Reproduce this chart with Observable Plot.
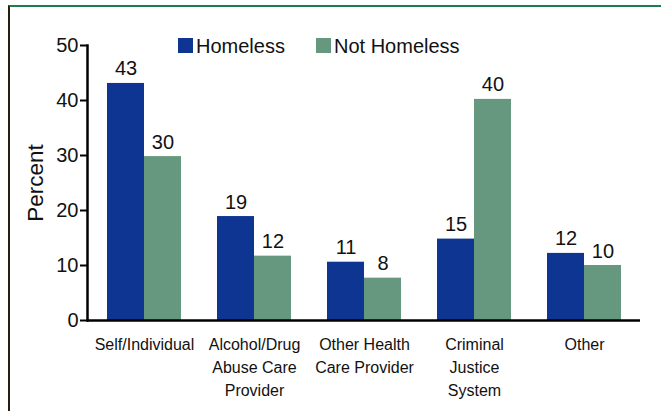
<!DOCTYPE html>
<html>
<head>
<meta charset="utf-8">
<script src="https://cdn.jsdelivr.net/npm/d3@7"></script>
<script src="https://cdn.jsdelivr.net/npm/@observablehq/plot@0.6"></script>
<style>
  html, body { margin: 0; padding: 0; background: #fff; }
  body { font-family: "Liberation Sans", Arial, sans-serif; }
  #wrap { position: relative; width: 661px; height: 411px; overflow: hidden; }
  #border { position: absolute; left: 8px; top: 5px; right: 0; bottom: -4px;
            border-top: 2px solid #1f7a4c; border-left: 2px solid #2b1d0e; }
  #chart { position: absolute; left: 0; top: 0; }
  .leg { position: absolute; top: 35.5px; font-size: 20px; line-height: 20px; color: #111; white-space: nowrap; }
  .sw { display: inline-block; width: 15px; height: 15px; margin-right: 3px; vertical-align: baseline; }
</style>
</head>
<body>
<div id="wrap">
  <div id="border"></div>
  <div id="chart"></div>
  <div class="leg" style="left:178px"><span class="sw" style="background:#0e3592"></span>Homeless</div>
  <div class="leg" style="left:316px"><span class="sw" style="background:#66977f"></span>Not Homeless</div>
</div>
<script>
// ---- data ----
const categories = [
  "Self/Individual",
  "Alcohol/Drug\nAbuse Care\nProvider",
  "Other Health\nCare Provider",
  "Criminal\nJustice\nSystem",
  "Other"
];
const homeless = [43.1, 18.9, 10.6, 14.8, 12.2];
const notHomeless = [29.8, 11.7, 7.7, 40.2, 10.0];
const yTicks = [0, 10, 20, 30, 40, 50];
const seriesNames = ["Homeless", "Not Homeless"];
const colors = ["#0e3592", "#66977f"];
const yLabel = "Percent";

// ---- layout ----
const W = 661, H = 411;
const mL = 87, mR = 21, mT = 45, mB = 91;
const padInner = 0.331;
const step = (W - mL - mR) / categories.length;
const bw = step * (1 - padInner);

const rowsH = categories.map((c, i) => ({category: c, series: seriesNames[0], value: homeless[i]}));
const rowsN = categories.map((c, i) => ({category: c, series: seriesNames[1], value: notHomeless[i]}));
const fmt = d3.format(".0f");
const font = "Liberation Sans, Arial, sans-serif";

const chart = Plot.plot({
  width: W,
  height: H,
  marginLeft: mL,
  marginRight: mR,
  marginTop: mT,
  marginBottom: mB,
  style: {fontFamily: font, background: "transparent", color: "#111"},
  x: {type: "band", domain: categories, paddingInner: padInner, paddingOuter: padInner / 2, axis: null},
  y: {domain: [0, 50], axis: null},
  marks: [
    Plot.barY(rowsH, {x: "category", y: "value", fill: colors[0], insetRight: bw / 2}),
    Plot.barY(rowsN, {x: "category", y: "value", fill: colors[1], insetLeft: bw / 2}),
    Plot.text(rowsH, {x: "category", y: "value", text: d => fmt(d.value), dx: -bw / 4, dy: -8, lineAnchor: "bottom", fontSize: 20, fill: "#111"}),
    Plot.text(rowsN, {x: "category", y: "value", text: d => fmt(d.value), dx: bw / 4, dy: -8, lineAnchor: "bottom", fontSize: 20, fill: "#111"}),
    Plot.axisY({ticks: yTicks, tickSize: 7, tickPadding: 2, fontSize: 20, strokeWidth: 2, stroke: "#000", label: null}),
    Plot.text([yLabel], {frameAnchor: "left", dx: -52, rotate: -90, lineAnchor: "middle", textAnchor: "middle", fontSize: 22.5, fill: "#111"}),
    Plot.axisX({tickSize: 0, tickPadding: 13, fontSize: 16, lineHeight: 1.44, label: null}),
    Plot.frame({anchor: "left", stroke: "#000", strokeWidth: 2.5}),
    Plot.ruleY([0], {stroke: "#000", strokeWidth: 2.5})
  ]
});
document.getElementById("chart").appendChild(chart);
</script>
</body>
</html>
